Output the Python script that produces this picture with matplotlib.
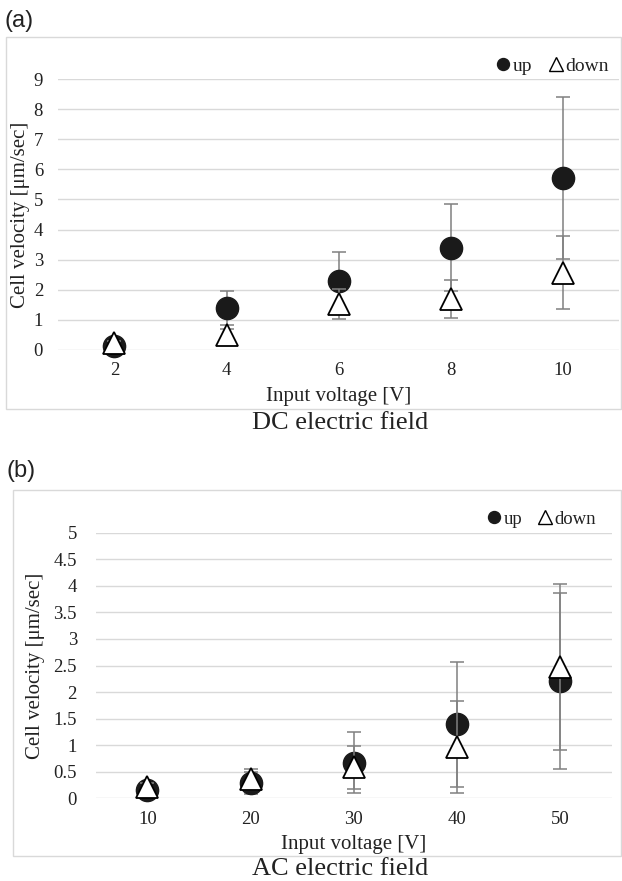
import matplotlib
matplotlib.use("Agg")
import matplotlib.pyplot as plt
from matplotlib.lines import Line2D
from matplotlib.patches import Rectangle
import numpy as np

# ---------------- data ----------------
dc_voltage = ["2", "4", "6", "8", "10"]
dc_up = [0.13, 1.40, 2.29, 3.40, 5.70]
dc_up_err = [0.10, 0.57, 0.95, 1.45, 2.69]
dc_down = [0.22, 0.50, 1.52, 1.69, 2.57]
dc_down_err = [0.08, 0.20, 0.49, 0.63, 1.20]
dc_yticks = [0, 1, 2, 3, 4, 5, 6, 7, 8, 9]
dc_yticklabels = ["0", "1", "2", "3", "4", "5", "6", "7", "8", "9"]

ac_voltage = ["10", "20", "30", "40", "50"]
ac_up = [0.16, 0.29, 0.67, 1.39, 2.21]
ac_up_err = [0.08, 0.20, 0.57, 1.17, 1.66]
ac_down = [0.21, 0.36, 0.58, 0.97, 2.47]
ac_down_err = [0.08, 0.20, 0.40, 0.87, 1.57]
ac_yticks = [0, 0.5, 1, 1.5, 2, 2.5, 3, 3.5, 4, 4.5, 5]
ac_yticklabels = ["0", "0.5", "1", "1.5", "2", "2.5", "3", "3.5", "4", "4.5", "5"]

# ---------------- style ----------------
W, H = 622, 881
SERIF = ["Liberation Serif", "DejaVu Serif"]
SANS = ["Liberation Sans", "DejaVu Sans"]
GRID = "#d9d9d9"
ERR = "#808080"

fig = plt.figure(figsize=(W / 100, H / 100), dpi=100)


def fx(px):
    return px / W


def fy(py):
    return 1 - py / H


def panel(ax_box, cats, up, up_err, down, down_err, yticks, ylabels, ymax,
          ylab_pad, xlab_y, ylab_x, leg_right, leg_y, leg_fs):
    l, t, r, b = ax_box
    ax = fig.add_axes([fx(l), fy(b), fx(r) - fx(l), (b - t) / H])
    x = np.arange(len(cats))
    ax.errorbar(x, up, yerr=up_err, fmt="none", ecolor=ERR, elinewidth=1.1,
                capsize=5, capthick=1.1, zorder=3)
    ax.plot(x, up, "o", color="#1a1a1a", ms=16, mec="#1a1a1a", zorder=4,
            clip_on=False)
    ax.errorbar(x, down, yerr=down_err, fmt="none", ecolor=ERR, elinewidth=1.1,
                capsize=5, capthick=1.1, zorder=5)
    ax.plot(x, down, "^", mfc="white", mec="black", mew=1.3, ms=16, zorder=6,
            clip_on=False)
    ax.set_xlim(-0.5, len(cats) - 0.5)
    ax.set_ylim(0, ymax)
    ax.set_yticks(yticks)
    ax.set_yticklabels(ylabels, fontfamily=SERIF, fontsize=13.5)
    ax.set_xticks(x)
    ax.set_xticklabels(cats, fontfamily=SERIF, fontsize=13.5)
    ax.tick_params(axis="both", length=0, colors="#222222")
    ax.tick_params(axis="y", pad=ylab_pad)
    ax.tick_params(axis="x", pad=9)
    for s in ax.spines.values():
        s.set_visible(False)
    ax.yaxis.grid(True, color=GRID, lw=1.0)
    ax.set_axisbelow(True)
    fig.text(fx((l + r) / 2), fy(xlab_y), "Input voltage [V]", ha="center",
             va="center", fontfamily=SERIF, fontsize=15, color="#222222")
    fig.text(fx(ylab_x), fy((t + b) / 2), "Cell velocity [μm/sec]", ha="center",
             va="center", rotation=90, fontfamily=SERIF, fontsize=15,
             color="#222222")
    handles = [
        Line2D([], [], ls="none", marker="o", color="#1a1a1a", ms=8.6),
        Line2D([], [], ls="none", marker="^", mfc="white", mec="black",
               mew=1.0, ms=9.5),
    ]
    leg = ax.legend(handles, ["up", "down"], ncol=2, frameon=False,
                    loc="center right",
                    bbox_to_anchor=(fx(leg_right), fy(leg_y)),
                    bbox_transform=fig.transFigure, borderpad=0,
                    borderaxespad=0, handlelength=0.7, handletextpad=0.15,
                    columnspacing=0.85, prop={"family": SERIF, "size": leg_fs})
    for txt in leg.get_texts():
        txt.set_color("#222222")
    return ax


# panel (a)
panel((58.3, 79, 619, 350), dc_voltage, dc_up, dc_up_err, dc_down, dc_down_err,
      dc_yticks, dc_yticklabels, 9, 11, 397, 21, 609, 66, 14)
fig.add_artist(Rectangle((fx(6), fy(409.3)), fx(621) - fx(6), (409.3 - 36.7) / H,
                         transform=fig.transFigure, fill=False, ec=GRID, lw=1.0))
fig.text(fx(5), fy(21), "(a)", ha="left", va="center", fontfamily=SANS,
         fontsize=17, color="#222222")
fig.text(fx(340), fy(423), "DC electric field", ha="center", va="center",
         fontfamily=SERIF, fontsize=19, color="#222222")

# panel (b)
panel((95.7, 532.7, 611.7, 798.3), ac_voltage, ac_up, ac_up_err, ac_down,
      ac_down_err, ac_yticks, ac_yticklabels, 5, 13.5, 844, 36, 596, 519.3, 13.5)
fig.add_artist(Rectangle((fx(12.7), fy(855.7)), fx(621.3) - fx(12.7),
                         (855.7 - 490) / H, transform=fig.transFigure,
                         fill=False, ec=GRID, lw=1.0))
fig.text(fx(7), fy(471), "(b)", ha="left", va="center", fontfamily=SANS,
         fontsize=17, color="#222222")
fig.text(fx(340), fy(869), "AC electric field", ha="center", va="center",
         fontfamily=SERIF, fontsize=19, color="#222222")

fig.savefig("out.png", dpi=100)
